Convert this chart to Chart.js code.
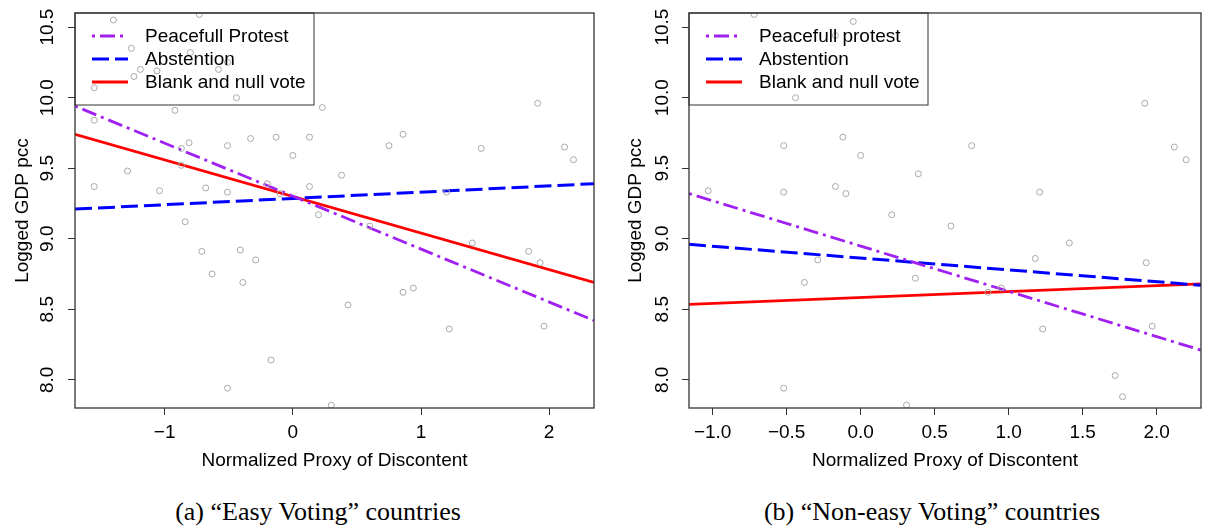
<!DOCTYPE html>
<html lang="en">
<head>
<meta charset="UTF-8">
<title>Logged GDP pcc vs Normalized Proxy of Discontent</title>
<script src="https://cdn.jsdelivr.net/npm/chart.js"></script>
<style>
    body {
        margin: 0;
        background: #ffffff;
        width: 1206px;
        height: 529px;
        position: relative;
        overflow: hidden;
        font-family: "Liberation Sans", Arial, sans-serif;
    }
    .panel {
        position: absolute;
        top: 0;
        width: 603px;
        height: 480px;
    }
    #panelA { left: 0; }
    #panelB { left: 603px; }
    .caption {
        position: absolute;
        top: 497px;
        font-family: "Liberation Serif", "Times New Roman", serif;
        font-size: 26px;
        line-height: 30px;
        white-space: nowrap;
        transform: translateX(-50%);
        color: #000;
    }
</style>
</head>
<body>

<div class="panel" id="panelA"><canvas id="chartA"></canvas></div>
<div class="panel" id="panelB"><canvas id="chartB"></canvas></div>
<div class="caption" style="left:318px">(a) “Easy Voting” countries</div>
<div class="caption" style="left:932px">(b) “Non-easy Voting” countries</div>

<script>
// country observations, "easy voting" group
const easyX = [-1.40, -0.73, -1.26, -0.80, -1.19, -1.06, -0.58, -0.51, -1.24, -1.55,
               -0.44, -0.92, -1.55, -0.33, -0.13, -0.87, -0.81, -0.51, 0.00, -1.29,
               -0.87, -1.55, -1.04, -0.68, -0.51, -0.20, -0.10, -0.84, -0.71, -0.41,
               0.23, 1.91, 0.13, 0.86, 0.75, 1.47, 2.12, 2.19, 0.38, 0.13,
               1.20, 0.20, 0.60, 1.40, 1.84, 1.93, 0.86, 0.94, 0.43, 1.22,
               1.96, 0.30, -0.29, -0.63, -0.39, -0.17, -0.51];
const easyY = [10.55, 10.59, 10.35, 10.32, 10.20, 10.19, 10.20, 10.25, 10.15, 10.07,
               10.00, 9.91, 9.84, 9.71, 9.72, 9.64, 9.68, 9.66, 9.59, 9.48,
               9.52, 9.37, 9.34, 9.36, 9.33, 9.39, 9.32, 9.12, 8.91, 8.92,
               9.93, 9.96, 9.72, 9.74, 9.66, 9.64, 9.65, 9.56, 9.45, 9.37,
               9.33, 9.17, 9.09, 8.97, 8.91, 8.83, 8.62, 8.65, 8.53, 8.36,
               8.38, 7.82, 8.85, 8.75, 8.69, 8.14, 7.94];

// country observations, "non-easy voting" group
const nonEasyX = [-0.72, -0.17, -0.05, -0.44, -0.52, -0.12, 0.00, -1.03, -0.52, -0.17,
                  -0.10, 0.21, 1.92, 0.75, 2.12, 2.20, 0.39, 1.21, 0.61, 1.41,
                  -0.29, -0.38, -0.52, 0.31, 1.18, 1.93, 0.37, 0.86, 0.95, 1.23,
                  1.97, 1.72, 1.77];
const nonEasyY = [10.59, 10.44, 10.54, 10.00, 9.66, 9.72, 9.59, 9.34, 9.33, 9.37,
                  9.32, 9.17, 9.96, 9.66, 9.65, 9.56, 9.46, 9.33, 9.09, 8.97,
                  8.85, 8.69, 7.94, 7.82, 8.86, 8.83, 8.72, 8.62, 8.65, 8.36,
                  8.38, 8.03, 7.88];

// fitted lines: value at the left and right end of the x range
const peacefulEasy = [9.94, 8.42];
const abstentionEasy = [9.21, 9.39];
const blankEasy = [9.74, 8.69];
const peacefulNonEasy = [9.32, 8.21];
const abstentionNonEasy = [8.96, 8.67];
const blankNonEasy = [8.535, 8.68];

// axis ranges and ticks
const xRangeEasy = [-1.70, 2.35];
const xRangeNonEasy = [-1.16, 2.30];
const yRange = [7.80, 10.60];
const xTicksEasy = [-1, 0, 1, 2];
const xTickLabelsEasy = ['\u22121', '0', '1', '2'];
const xTicksNonEasy = [-1.0, -0.5, 0.0, 0.5, 1.0, 1.5, 2.0];
const xTickLabelsNonEasy = ['\u22121.0', '\u22120.5', '0.0', '0.5', '1.0', '1.5', '2.0'];
const yTicks = [8.0, 8.5, 9.0, 9.5, 10.0, 10.5];
const yTickLabels = ['8.0', '8.5', '9.0', '9.5', '10.0', '10.5'];

Chart.defaults.font.family = '"Liberation Sans", Arial, sans-serif';
Chart.defaults.font.size = 19;
Chart.defaults.color = '#000';

// box around the plotting region
const framePlugin = {
    id: 'frame',
    afterDatasetsDraw(chart) {
        const { ctx, chartArea: a } = chart;
        ctx.save();
        ctx.strokeStyle = '#333';
        ctx.lineWidth = 1.3;
        ctx.strokeRect(a.left, a.top, a.right - a.left, a.bottom - a.top);
        ctx.restore();
    }
};

// legend drawn in the top-left corner, with its own border
const boxLegend = {
    id: 'boxLegend',
    afterDraw(chart) {
        const { ctx, chartArea: a } = chart;
        const items = chart.data.datasets.filter(d => d.inLegend);
        ctx.save();
        ctx.strokeStyle = '#333';
        ctx.lineWidth = 1;
        ctx.strokeRect(a.left, a.top, 239, 92);
        ctx.font = '19px "Liberation Sans", Arial, sans-serif';
        ctx.textBaseline = 'middle';
        ctx.fillStyle = '#000';
        items.forEach((d, i) => {
            const y = a.top + 23 + i * 23;
            ctx.beginPath();
            ctx.setLineDash(d.borderDash || []);
            ctx.strokeStyle = d.borderColor;
            ctx.lineWidth = d.borderWidth;
            ctx.moveTo(a.left + 17, y);
            ctx.lineTo(a.left + 53, y);
            ctx.stroke();
            ctx.setLineDash([]);
            ctx.fillText(d.label, a.left + 70, y + 1);
        });
        ctx.restore();
    }
};

function fitLine(label, xr, ends, color, dash, width) {
    return {
        label: label,
        inLegend: true,
        data: [{ x: xr[0], y: ends[0] }, { x: xr[1], y: ends[1] }],
        showLine: true,
        borderColor: color,
        borderWidth: width,
        borderDash: dash,
        borderCapStyle: 'butt',
        pointRadius: 0,
        fill: false
    };
}

function makeChart(id, cfg) {
    return new Chart(document.getElementById(id), {
        type: 'scatter',
        data: {
            datasets: [
                {
                    label: 'countries',
                    data: cfg.xs.map((x, i) => ({ x: x, y: cfg.ys[i] })),
                    pointRadius: 3,
                    pointBorderWidth: 1,
                    pointBorderColor: '#a8a8a8',
                    pointBackgroundColor: 'rgba(0,0,0,0)',
                    showLine: false
                },
                fitLine(cfg.names[0], cfg.xr, cfg.lines[0], '#A020F0', [3, 5, 15, 5], 2.8),
                fitLine(cfg.names[1], cfg.xr, cfg.lines[1], '#0000FF', [17, 6], 3),
                fitLine(cfg.names[2], cfg.xr, cfg.lines[2], '#FF0000', [], 2.8)
            ]
        },
        options: {
            animation: false,
            responsive: true,
            maintainAspectRatio: false,
            layout: { padding: { top: 13, right: cfg.padRight, left: 0, bottom: 0 } },
            plugins: {
                legend: { display: false },
                tooltip: { enabled: false }
            },
            scales: {
                x: {
                    type: 'linear',
                    min: cfg.xr[0],
                    max: cfg.xr[1],
                    afterBuildTicks: s => { s.ticks = cfg.xTicks.map(v => ({ value: v })); },
                    afterFit: s => { s.height = 72; s.paddingLeft = 0; s.paddingRight = 0; },
                    ticks: {
                        autoSkip: false,
                        maxRotation: 0,
                        padding: 6,
                        callback: (v, i) => cfg.xLabels[i]
                    },
                    grid: { drawOnChartArea: false, tickLength: 7, color: '#333', lineWidth: 1 },
                    border: { display: false },
                    title: {
                        display: true,
                        text: 'Normalized Proxy of Discontent',
                        padding: { top: 0, bottom: 8 }
                    }
                },
                y: {
                    type: 'linear',
                    min: yRange[0],
                    max: yRange[1],
                    afterBuildTicks: s => { s.ticks = yTicks.map(v => ({ value: v })); },
                    afterFit: s => { s.width = cfg.yWidth; s.paddingTop = 0; s.paddingBottom = 0; },
                    ticks: {
                        autoSkip: false,
                        minRotation: 90,
                        maxRotation: 90,
                        crossAlign: 'center',
                        padding: cfg.yTickPad,
                        callback: (v, i) => yTickLabels[i]
                    },
                    grid: { drawOnChartArea: false, tickLength: 7, color: '#333', lineWidth: 1 },
                    border: { display: false },
                    title: {
                        display: true,
                        text: 'Logged GDP pcc',
                        padding: { top: cfg.yTitlePad, bottom: 0 }
                    }
                }
            }
        },
        plugins: [framePlugin, boxLegend]
    });
}

makeChart('chartA', {
    xs: easyX, ys: easyY, xr: xRangeEasy,
    xTicks: xTicksEasy, xLabels: xTickLabelsEasy,
    names: ['Peacefull Protest', 'Abstention', 'Blank and null vote'],
    lines: [peacefulEasy, abstentionEasy, blankEasy],
    padRight: 9, yWidth: 75, yTickPad: 2, yTitlePad: 11.6
});

makeChart('chartB', {
    xs: nonEasyX, ys: nonEasyY, xr: xRangeNonEasy,
    xTicks: xTicksNonEasy, xLabels: xTickLabelsNonEasy,
    names: ['Peacefull protest', 'Abstention', 'Blank and null vote'],
    lines: [peacefulNonEasy, abstentionNonEasy, blankNonEasy],
    padRight: 1, yWidth: 86, yTickPad: 1, yTitlePad: 21.6
});
</script>

</body>
</html>
